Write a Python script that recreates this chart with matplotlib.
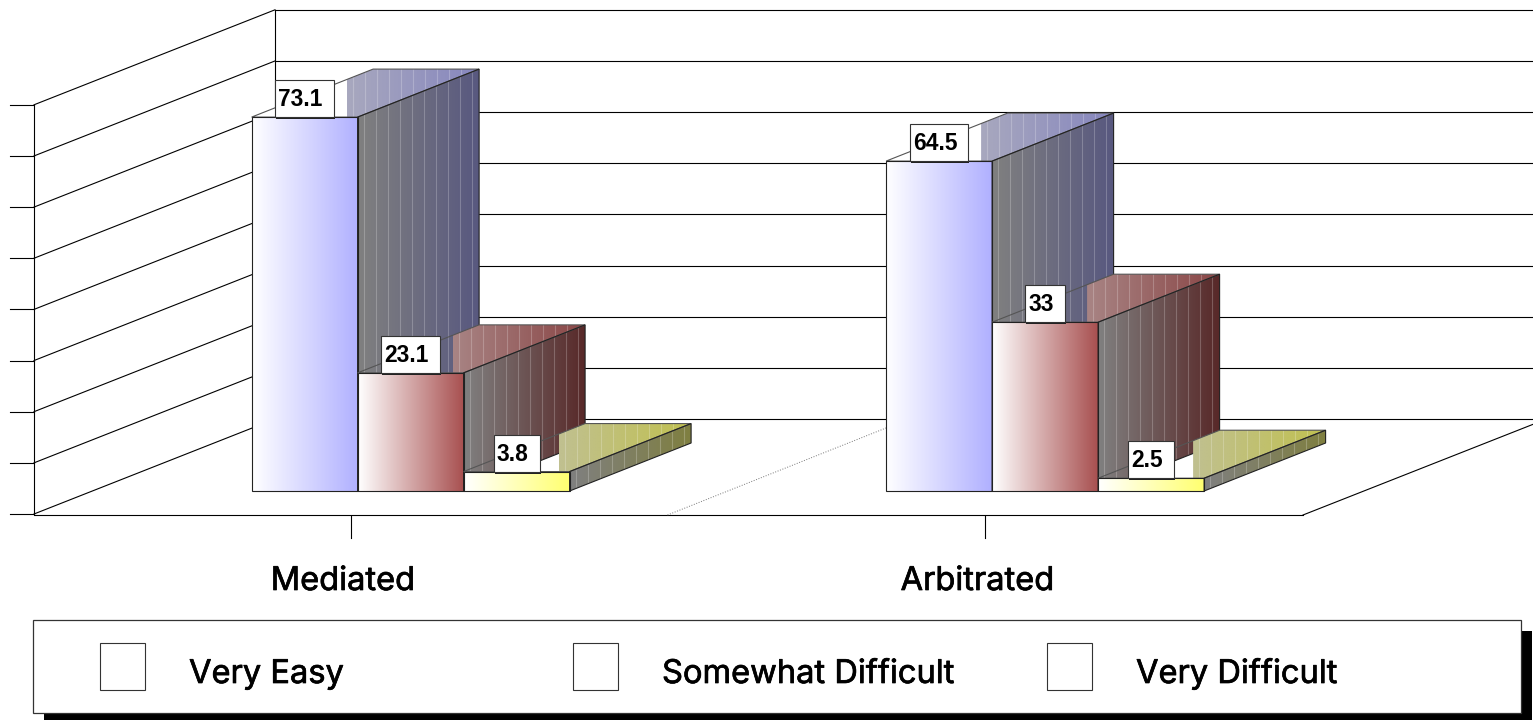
import matplotlib
matplotlib.use('Agg')
import matplotlib.pyplot as plt
import matplotlib.patheffects as pe
from matplotlib.patches import Polygon, Rectangle
import numpy as np

categories = ['Mediated', 'Arbitrated']
series_names = ['Very Easy', 'Somewhat Difficult', 'Very Difficult']
very_easy = [73.1, 64.5]
somewhat_difficult = [23.1, 33]
very_difficult = [3.8, 2.5]
value_labels = [['73.1', '64.5'], ['23.1', '33'], ['3.8', '2.5']]
y_levels = [0, 10, 20, 30, 40, 50, 60, 70, 80]

# front colour at the right edge, side colour, top colour
front_cols = ['#b0b0ff', '#a85050', '#ffff70']
side_cols = ['#58587f', '#582828', '#7f7f40']
top_start = ['#a8a8be', '#a88484', '#c0c090']
top_end = ['#8686be', '#8a4646', '#c0c050']

# projection of the fake 3D chart, in pixels
X0, X1 = 34, 1303
Y_FLOOR = 514
PX_PER_UNIT = 5.115
DX, DY = 121.5, 48
WALL_DX, WALL_DY = 241, 95
BAR_W = 106
TOP_CLIP = 95

plt.rcParams['font.family'] = ['Inter', 'Liberation Sans', 'DejaVu Sans']
fig = plt.figure(figsize=(15.33, 7.21), dpi=100)
ax = fig.add_axes([0, 0, 1, 1])
ax.axis('off')
ax.set_xlim(0, 1533)
ax.set_ylim(721, 0)
ax.autoscale(False)

heavier = [pe.withStroke(linewidth=0.5, foreground='black')]


def level_y(v):
    return Y_FLOOR - v * PX_PER_UNIT


def gradient(poly, c0, c1, zorder):
    # horizontal gradient clipped to a polygon
    poly = np.array(poly)
    a = np.array(matplotlib.colors.to_rgb(c0))
    b = np.array(matplotlib.colors.to_rgb(c1))
    t = np.linspace(0, 1, 128)[None, :, None]
    img = a + (b - a) * t
    ext = [poly[:, 0].min(), poly[:, 0].max(), poly[:, 1].max(), poly[:, 1].min()]
    im = ax.imshow(img, extent=ext, aspect='auto', zorder=zorder, interpolation='bilinear')
    clip = Polygon(poly, closed=True, transform=ax.transData)
    im.set_clip_path(clip)
    return clip


def stripes(x_start, y_range, clip, zorder):
    for x in np.arange(x_start + 6, x_start + DX, 12):
        ln, = ax.plot([x, x], y_range, color='white', alpha=0.22, lw=0.8, zorder=zorder)
        ln.set_clip_path(clip)


# walls and floor
for v in y_levels:
    y = level_y(v)
    ax.plot([10, X0], [y, y], color='black', lw=0.8, zorder=1)
    ax.plot([X0, X0 + WALL_DX], [y, y - WALL_DY], color='black', lw=0.8, zorder=1)
    ax.plot([X0 + WALL_DX, 1533], [y - WALL_DY, y - WALL_DY], color='black', lw=0.8, zorder=1)
ax.plot([X0, X0], [level_y(0), level_y(80)], color='black', lw=0.8, zorder=1)
ax.plot([X0 + WALL_DX, X0 + WALL_DX], [level_y(0) - WALL_DY, level_y(80) - WALL_DY], color='black', lw=0.8, zorder=1)
ax.plot([X0, X1], [Y_FLOOR + 1, Y_FLOOR + 1], color='black', lw=0.8, zorder=1)
ax.plot([X1, X1 + WALL_DX], [Y_FLOOR + 1, Y_FLOOR + 1 - WALL_DY], color='black', lw=0.8, zorder=1)
slot = (X1 - X0) / len(categories)
ax.plot([X0 + slot - 1, X0 + slot + 220], [Y_FLOOR + 1, Y_FLOOR - 87], color='#777777', lw=0.7, ls=':', zorder=1)

# bars
all_series = [very_easy, somewhat_difficult, very_difficult]
base = Y_FLOOR - 23  # front of the bars sits part way back on the floor
label_jobs = []
for c in range(len(categories)):
    left = X0 + slot * c + 217.6
    for s, vals in enumerate(all_series):
        z = 3 + c * 10 + s * 2
        x0 = left + s * BAR_W
        x1 = x0 + BAR_W
        yt = base - vals[c] * PX_PER_UNIT
        top_all = [(x0, yt), (x1, yt), (x1 + DX, yt - DY), (x0 + DX, yt - DY)]
        side = [(x1, yt), (x1 + DX, yt - DY), (x1 + DX, base - DY), (x1, base)]
        front = [(x0, yt), (x1, yt), (x1, base), (x0, base)]

        # white mask hides the grid lines behind the bar
        for poly in (top_all, side, front):
            ax.add_patch(Polygon(poly, closed=True, fc='white', ec='none', zorder=2))

        top_vis = [(x0 + TOP_CLIP, yt), (x1, yt), (x1 + DX, yt - DY), (x0 + DX, yt - DY),
                   (x0 + TOP_CLIP, yt - DY * TOP_CLIP / DX)]
        clip = gradient(top_vis, top_start[s], top_end[s], z)
        stripes(x0 + TOP_CLIP, [yt - DY, yt], clip, z + 0.1)
        clip = gradient(side, '#808080', side_cols[s], z)
        stripes(x1, [yt - DY, base], clip, z + 0.1)
        gradient(front, 'white', front_cols[s], z)

        ax.add_patch(Polygon(top_all, closed=True, fc='none', ec='#555555', lw=0.8, zorder=z + 0.2))
        ax.add_patch(Polygon(side, closed=True, fc='none', ec='#222222', lw=0.8, zorder=z + 0.2))
        ax.add_patch(Polygon(front, closed=True, fc='none', ec='#222222', lw=0.8, zorder=z + 0.2))
        label_jobs.append((value_labels[s][c], x0 + BAR_W / 2, yt))

# value labels, box size comes from the text itself
fig.canvas.draw()
rend = fig.canvas.get_renderer()
inv = ax.transData.inverted()
for txt, xc, yt in label_jobs:
    t = ax.text(xc, yt - 11, txt, fontsize=16.4, fontweight='bold', family=['Liberation Sans', 'DejaVu Sans'],
                ha='center', va='baseline', zorder=100)
    ext = t.get_window_extent(rend)
    w = abs(inv.transform((ext.x1, 0))[0] - inv.transform((ext.x0, 0))[0])
    bw = w + 14
    bx = xc - bw / 2
    t.set_x(bx + 3 + w / 2)
    ax.add_patch(Rectangle((bx + 1, yt - 35), bw, 37, fc='#222222', ec='none', zorder=98))
    ax.add_patch(Rectangle((bx, yt - 37), bw, 37, fc='white', ec='#333333', lw=0.8, zorder=99))

# category axis
for c, name in enumerate(categories):
    xc = X0 + slot * (c + 0.5) - 0.5
    ax.plot([xc, xc], [Y_FLOOR + 2, Y_FLOOR + 24], color='black', lw=0.8, zorder=1)
    ax.text(xc - 8, 590, name, fontsize=23.5, ha='center', va='baseline', path_effects=heavier)

# legend with hard shadow
ax.add_patch(Rectangle((44, 631), 1488, 89, fc='black', ec='none', zorder=200))
ax.add_patch(Rectangle((33, 620), 1488, 93, fc='white', ec='#333333', lw=0.9, zorder=201))
for name, sx in zip(series_names, [100, 573, 1047]):
    ax.add_patch(Rectangle((sx, 643), 45, 47, fc='white', ec='#333333', lw=0.8, zorder=202))
    ax.text(sx + 89, 683, name, fontsize=23.5, ha='left', va='baseline', zorder=202, path_effects=heavier)

fig.savefig('out.png', dpi=100)
plt.close()
